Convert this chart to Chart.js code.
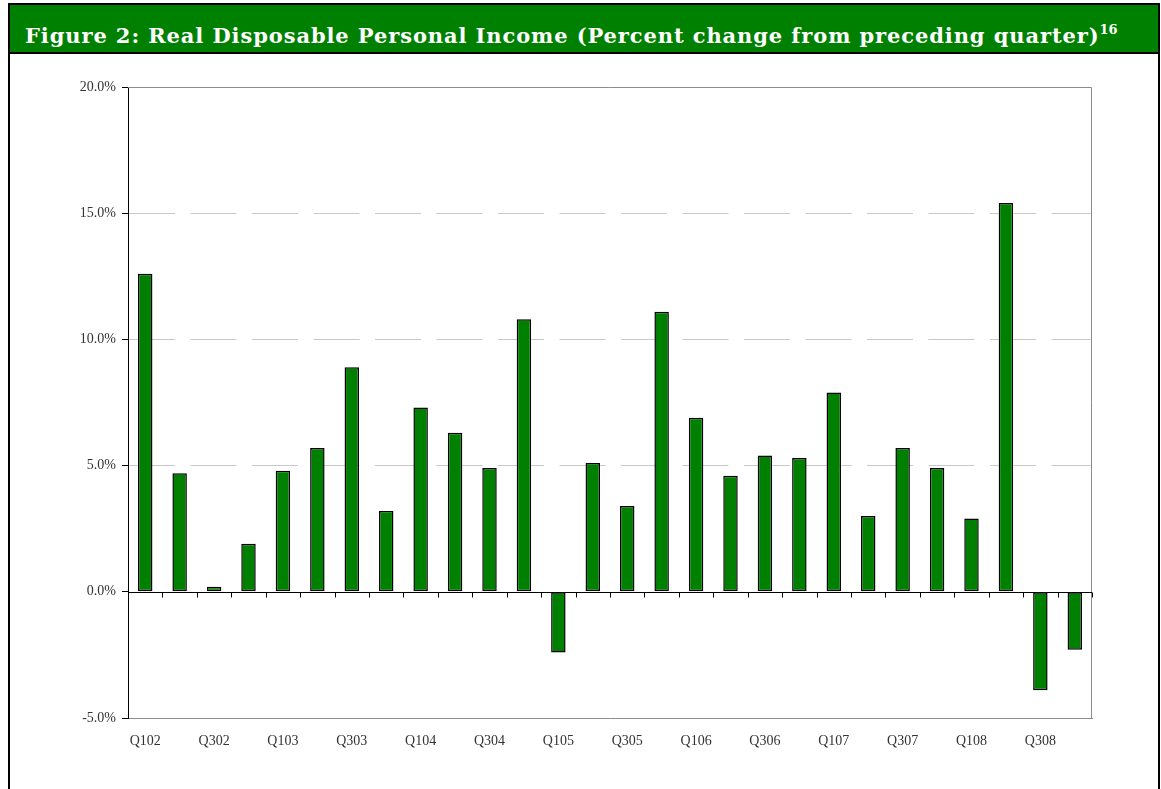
<!DOCTYPE html>
<html>
<head>
<meta charset="utf-8">
<title>Figure 2: Real Disposable Personal Income</title>
<script src="https://cdn.jsdelivr.net/npm/chart.js@4.4.0/dist/chart.umd.min.js"></script>
<style>
    html, body { margin: 0; padding: 0; background: #fff; }
    body { width: 1161px; height: 789px; position: relative; overflow: hidden; }
    #frame {
        position: absolute; left: 8px; top: 3px; width: 1148px; height: 800px;
        border: 2px solid #000; border-bottom: none;
    }
    #title {
        background: #008000; color: #fff; height: 33px; padding-top: 14px; border-bottom: 2px solid #000;
        font-family: "DejaVu Serif", "Liberation Serif", serif; font-weight: bold;
        font-size: 21px; line-height: 33px; letter-spacing: 0.9px; padding-left: 15px; white-space: nowrap;
        box-sizing: content-box;
    }
    #title sup { font-size: 13px; line-height: 0; vertical-align: 9px; letter-spacing: 0; }
    #chartBox { position: absolute; left: 0; top: 0; width: 1161px; height: 789px; }
</style>
</head>
<body>
<div id="frame">
    <div id="title">Figure 2: Real Disposable Personal Income (Percent change from preceding quarter)<sup>16</sup></div>
</div>
<div id="chartBox"><canvas id="incomeChart"></canvas></div>

<script>
// Quarter labels, Q1 2002 .. Q4 2008
const quarters = [
    'Q102', 'Q202', 'Q302', 'Q402',
    'Q103', 'Q203', 'Q303', 'Q403',
    'Q104', 'Q204', 'Q304', 'Q404',
    'Q105', 'Q205', 'Q305', 'Q405',
    'Q106', 'Q206', 'Q306', 'Q406',
    'Q107', 'Q207', 'Q307', 'Q407',
    'Q108', 'Q208', 'Q308', 'Q408'
];

// Percent change from preceding quarter
const incomeChange = [
    12.6, 4.7, 0.2, 1.9,
    4.8, 5.7, 8.9, 3.2,
    7.3, 6.3, 4.9, 10.8,
    -2.4, 5.1, 3.4, 11.1,
    6.9, 4.6, 5.4, 5.3,
    7.9, 3.0, 5.7, 4.9,
    2.9, 15.4, -3.9, -2.3
];

// Y axis range
const yMin = -5;
const yMax = 20;
const yStep = 5;

const serif = '"Liberation Serif", "DejaVu Serif", serif';

// Gray frame on top/right, black zero line with small ticks between quarters
const framePlugin = {
    id: 'framePlugin',
    beforeDatasetsDraw(chart) {
        const { ctx, chartArea: a } = chart;
        ctx.save();
        ctx.strokeStyle = '#8c8c8c';
        ctx.lineWidth = 1;
        ctx.beginPath();
        ctx.moveTo(a.left, a.top + 0.5);
        ctx.lineTo(a.right - 0.5, a.top + 0.5);
        ctx.lineTo(a.right - 0.5, a.bottom);
        ctx.stroke();
        ctx.restore();
    },
    afterDatasetsDraw(chart) {
        const { ctx, chartArea: a } = chart;
        const xs = chart.scales.x;
        const y0 = Math.round(chart.scales.y.getPixelForValue(0)) + 0.5;
        const step = xs.getPixelForValue(1) - xs.getPixelForValue(0);
        ctx.save();
        ctx.strokeStyle = '#000';
        ctx.lineWidth = 1;
        ctx.beginPath();
        ctx.moveTo(a.left, y0);
        ctx.lineTo(a.right, y0);
        for (let i = 0; i <= quarters.length; i++) {
            const x = Math.round(xs.getPixelForValue(i) - step / 2) + 0.5;
            ctx.moveTo(x, y0);
            ctx.lineTo(x, y0 + 5);
        }
        ctx.stroke();
        ctx.restore();
    }
};

new Chart(document.getElementById('incomeChart'), {
    type: 'bar',
    data: {
        labels: quarters,
        datasets: [{
            label: 'Real Disposable Personal Income',
            data: incomeChange,
            backgroundColor: '#008000',
            borderColor: '#000',
            borderWidth: 1.5,
            borderSkipped: false,
            categoryPercentage: 1.0,
            barPercentage: 0.42
        }]
    },
    options: {
        responsive: true,
        maintainAspectRatio: false,
        animation: false,
        layout: {
            padding: { left: 40, right: 69, top: 87, bottom: 20 }
        },
        plugins: {
            legend: { display: false },
            tooltip: { enabled: false }
        },
        scales: {
            x: {
                grid: { display: false, drawTicks: false },
                border: { display: true, color: '#8c8c8c', width: 1 },
                ticks: {
                    autoSkip: false,
                    maxRotation: 0,
                    padding: 15,
                    color: '#333',
                    font: { family: serif, size: 14 },
                    callback: function(value, index) {
                        return index % 2 === 0 ? quarters[index] : '';
                    }
                },
                afterFit: function(scale) { scale.height = 51; }
            },
            y: {
                min: yMin,
                max: yMax,
                border: { display: true, color: '#000', width: 1, dash: [46, 15.5] },
                grid: {
                    color: function(ctx) {
                        const v = ctx.tick ? ctx.tick.value : null;
                        return (v === 0 || v === yMin || v === yMax) ? 'rgba(0,0,0,0)' : '#c8c8c8';
                    },
                    lineWidth: 1,
                    tickColor: '#000',
                    tickLength: 6
                },
                ticks: {
                    stepSize: yStep,
                    padding: 6,
                    color: '#333',
                    font: { family: serif, size: 14 },
                    callback: function(value) {
                        return value.toFixed(1) + '%';
                    }
                },
                afterFit: function(scale) { scale.width = 88; }
            }
        }
    },
    plugins: [framePlugin]
});
</script>
</body>
</html>
